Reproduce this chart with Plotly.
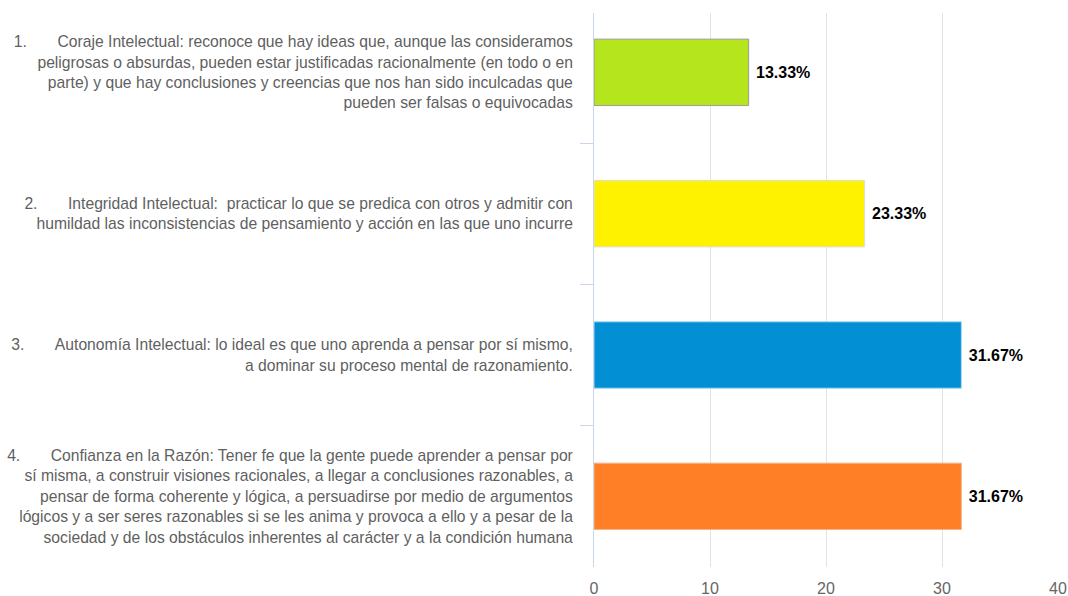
import plotly.graph_objects as go

NB = "\u00a0"
categories = [
    "1." + NB * 7 + "Coraje Intelectual: reconoce que hay ideas que, aunque las consideramos<br>"
    "peligrosas o absurdas, pueden estar justificadas racionalmente (en todo o en<br>"
    "parte) y que hay conclusiones y creencias que nos han sido inculcadas que<br>"
    "pueden ser falsas o equivocadas",
    "2." + NB * 7 + "Integridad Intelectual:" + NB * 2 + "practicar lo que se predica con otros y admitir con<br>"
    "humildad las inconsistencias de pensamiento y acción en las que uno incurre",
    "3." + NB * 7 + "Autonomía Intelectual: lo ideal es que uno aprenda a pensar por sí mismo,<br>"
    "a dominar su proceso mental de razonamiento.",
    "4." + NB * 7 + "Confianza en la Razón: Tener fe que la gente puede aprender a pensar por<br>"
    "sí misma, a construir visiones racionales, a llegar a conclusiones razonables, a<br>"
    "pensar de forma coherente y lógica, a persuadirse por medio de argumentos<br>"
    "lógicos y a ser seres razonables si se les anima y provoca a ello y a pesar de la<br>"
    "sociedad y de los obstáculos inherentes al carácter y a la condición humana",
]
values = [13.33, 23.33, 31.67, 31.67]
bar_colors = ["#b5e61d", "#fff200", "#028fd4", "#ff7f27"]
edge_colors = ["#9a9a9a", "#dddddd", "#a8d8f0", "#f2b48a"]
x_ticks = [0, 10, 20, 30, 40]

FONT = "Liberation Sans, Arial, sans-serif"

fig = go.Figure(
    go.Bar(
        x=values,
        y=categories,
        orientation="h",
        width=0.47,
        marker=dict(color=bar_colors, line=dict(color=edge_colors, width=1)),
        texttemplate=NB + "%{x:.2f}%",
        textposition="outside",
        cliponaxis=False,
        textfont=dict(family=FONT, size=16, color="#000000", weight="bold"),
        hoverinfo="skip",
    )
)

fig.update_layout(
    width=1068,
    height=596,
    margin=dict(l=594, r=10, t=13, b=29, autoexpand=False),
    paper_bgcolor="white",
    plot_bgcolor="white",
    showlegend=False,
    font=dict(family=FONT),
    xaxis=dict(
        range=[0, 40],
        tickvals=x_ticks,
        automargin=False,
        showgrid=True,
        gridcolor="#e3e3e3",
        gridwidth=1,
        zeroline=False,
        showline=False,
        ticks="",
        ticklabelstandoff=10,
        ticklabeloverflow="allow",
        tickfont=dict(family=FONT, size=16, color="#666666"),
    ),
    yaxis=dict(
        type="category",
        range=[3.5, -0.42],
        automargin=False,
        showline=True,
        linecolor="#ccd6eb",
        linewidth=1,
        ticks="outside",
        ticklen=13,
        tickcolor="#ccd6eb",
        tickson="boundaries",
        showgrid=False,
        ticklabelstandoff=17,
        tickfont=dict(family=FONT, size=15.7, color="#5f5f5f"),
    ),
)

fig.write_html(
    "out.html",
    config={"displayModeBar": False},
    post_script="document.body.style.margin='0';document.body.style.overflow='hidden';",
)
